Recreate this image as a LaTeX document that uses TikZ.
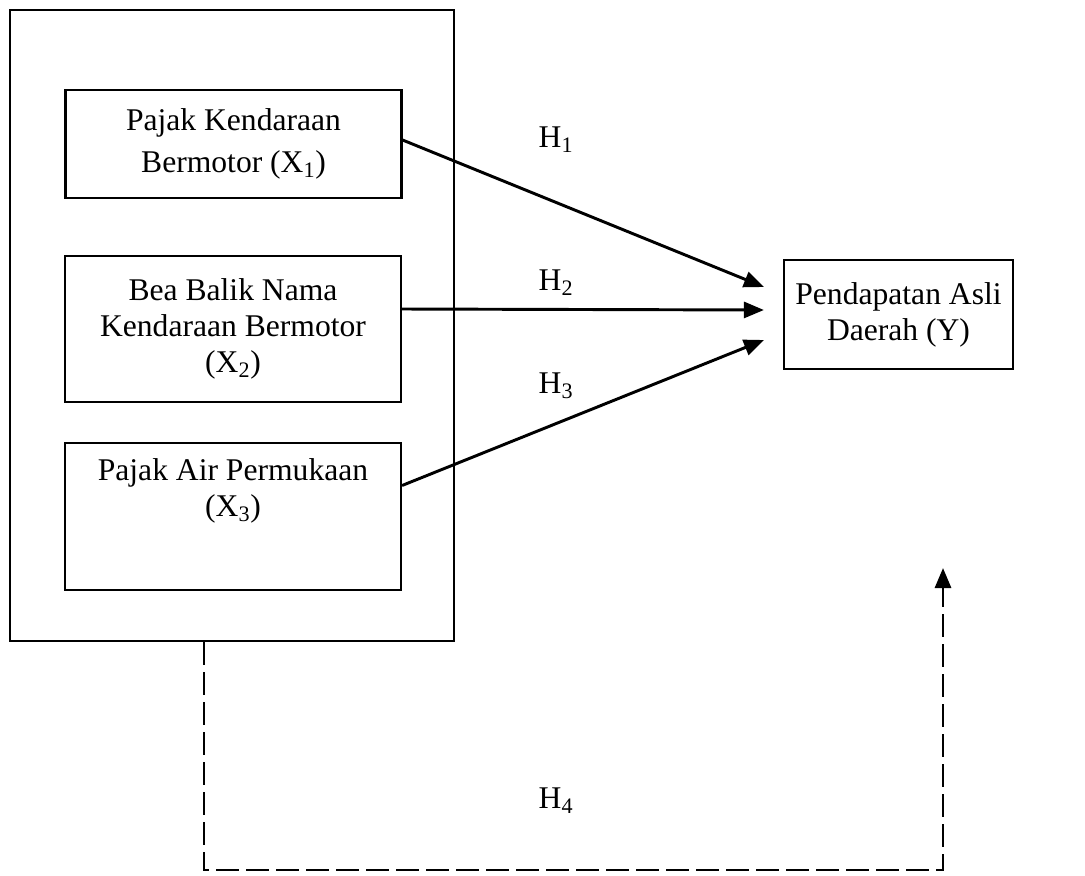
\documentclass[tikz,border=0pt]{standalone}
\usepackage{fontspec}
\setmainfont{Liberation Serif}
\usetikzlibrary{arrows.meta}
\tikzset{
  varbox/.style={draw, line width=1.6pt, minimum width=252pt, align=center, inner sep=0pt,
    font=\fontsize{23.7}{27}\selectfont},
  hyparrow/.style={line width=2.2pt, -{Triangle[length=15pt,width=12pt]}},
  dashline/.style={line width=2.2pt, dash pattern=on 17pt off 5.5pt, -{Triangle[length=15pt,width=12pt]}},
  hlabel/.style={font=\fontsize{23.7}{26}\selectfont, inner sep=0pt}
}
\begin{document}
\begin{tikzpicture}[x=0.75pt, y=-0.75pt]
                \useasboundingbox (0,0) rectangle (1085,875);
                \node (outer) [draw, line width=1.6pt, minimum width=333pt, minimum height=473.25pt] at (232,325.5) {};
                \node (box1) [varbox, minimum height=81pt, font=\fontsize{23.7}{31.5}\selectfont] at (233.5,144) {Pajak Kendaraan\\Bermotor (X\textsubscript{1})};
                \node (box2) [varbox, minimum height=109.5pt] at (233,329) {Bea Balik Nama\\Kendaraan Bermotor\\(X\textsubscript{2})};
                \node (box3) [varbox, minimum height=110.25pt] at (233,516.5) {};
                \node (x3label) [align=center, inner sep=0pt, font=\fontsize{23.7}{27}\selectfont] at (233,491) {Pajak Air Permukaan\\(X\textsubscript{3})};
                \node (ybox) [varbox, minimum width=171.75pt, minimum height=81.75pt] at (898.5,314.5) {Pendapatan Asli\\Daerah (Y)};
                \draw ([shift={(0,-4)}]box1.east) -- ([shift={(-19,-27.5)}]ybox.west) [hyparrow];
                \draw ([shift={(0,-20)}]box2.east) -- ([shift={(-19,-4.5)}]ybox.west) [hyparrow];
                \draw ([shift={(0,-31)}]box3.east) -- ([shift={(-19,25.5)}]ybox.west) [hyparrow];
                \node (h1) [hlabel] at (556,140) {H\textsubscript{1}};
                \node (h2) [hlabel] at (556,283) {H\textsubscript{2}};
                \node (h3) [hlabel] at (556,386) {H\textsubscript{3}};
                \node (h4) [hlabel] at (556,801) {H\textsubscript{4}};
                \coordinate (h4left) at (204,870);
                \coordinate (h4right) at (943,870);
                \coordinate (h4tip) at (943,568);
                \draw (outer.south -| h4left) -- (h4left) -- (h4right) -- (h4tip) [dashline];
            \end{tikzpicture}
\end{document}
